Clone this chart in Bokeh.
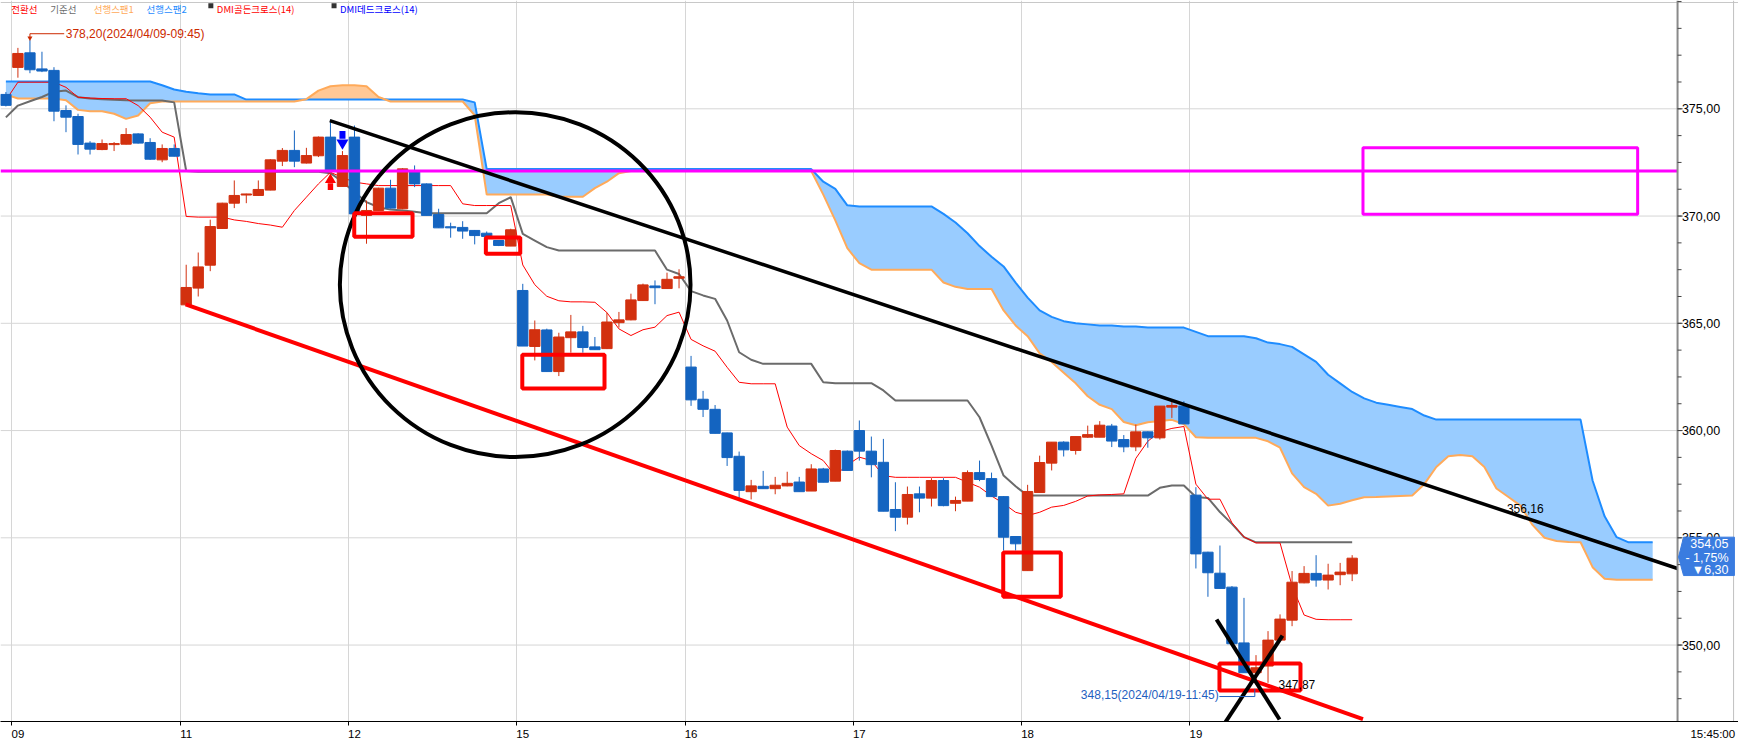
import numpy as np
from bokeh.plotting import figure
from bokeh.models import Range1d, FixedTicker
from bokeh.embed import file_html
from bokeh.resources import INLINE
from bokeh.core.properties import value

# ---------------- data (30-minute bars) ----------------
day_labels = ["09", "11", "12", "15", "16", "17", "18", "19"]
day_first_bar = [1, 15, 29, 43, 57, 71, 85, 99]
last_time_label = "15:45:00"

opens = [375.67, 376.93, 377.61, 376.86, 376.79, 374.92, 374.64, 373.40, 373.10, 373.33,
         373.35, 373.83, 373.43, 372.62, 373.15, 365.86, 366.64, 367.71, 369.42, 370.60,
         370.98, 370.96, 371.21, 372.56, 373.06, 372.47, 372.81, 373.68, 371.38, 373.68,
         370.03, 370.26, 371.30, 370.34, 372.05, 371.50, 370.07, 369.50, 369.47, 369.33,
         369.20, 368.86, 368.60, 366.53, 363.92, 364.69, 362.75, 364.33, 364.60, 363.90,
         363.82, 365.03, 365.16, 366.06, 366.74, 366.62, 367.10, 362.96, 361.46, 360.99,
         359.89, 358.80, 357.15, 357.40, 357.29, 357.42, 357.60, 357.18, 358.21, 357.64,
         359.04, 360.00, 359.04, 358.52, 356.32, 355.96, 357.05, 356.85, 357.67, 356.61,
         356.71, 358.04, 357.76, 356.92, 355.06, 353.47, 357.11, 358.48, 359.46, 359.07,
         359.69, 359.69, 360.21, 359.58, 359.24, 359.94, 359.66, 361.09, 361.14, 356.99,
         354.33, 353.35, 352.70, 350.10, 348.71, 349.02, 350.23, 351.16, 352.90, 353.34,
         353.03, 353.28, 353.32]
highs = [375.78, 377.84, 378.20, 377.66, 376.94, 375.16, 374.77, 373.49, 373.57, 373.45,
         374.10, 373.86, 373.63, 373.34, 373.34, 367.73, 368.30, 369.83, 370.62, 371.66,
         371.04, 371.66, 372.65, 373.17, 373.99, 373.18, 373.71, 374.49, 373.03, 374.22,
         370.72, 371.32, 371.69, 372.23, 372.36, 371.52, 370.34, 369.69, 369.76, 369.35,
         369.28, 368.88, 369.41, 366.84, 365.13, 364.75, 364.56, 365.39, 364.88, 364.36,
         365.50, 365.53, 366.38, 366.85, 367.00, 367.36, 367.52, 363.48, 361.85, 361.19,
         359.90, 359.02, 357.70, 358.12, 357.84, 358.08, 357.84, 358.43, 358.26, 359.11,
         359.07, 360.47, 359.72, 359.61, 357.59, 357.39, 357.39, 357.78, 357.78, 356.92,
         358.14, 358.60, 358.04, 356.94, 355.08, 357.47, 358.83, 359.46, 359.50, 359.72,
         360.23, 360.44, 360.31, 359.79, 360.28, 359.96, 361.14, 361.37, 361.37, 357.36,
         354.35, 354.64, 352.75, 352.20, 349.53, 350.65, 351.43, 353.45, 353.68, 354.19,
         353.79, 353.83, 354.19]
lows = [375.11, 376.45, 376.66, 376.71, 374.42, 373.91, 372.87, 372.87, 373.07, 373.03,
        373.34, 373.38, 372.62, 372.51, 372.78, 365.86, 366.25, 367.43, 369.40, 370.37,
        370.60, 370.94, 371.20, 372.33, 372.28, 372.45, 372.75, 372.12, 371.38, 370.10,
        368.71, 370.24, 370.35, 370.32, 371.35, 370.03, 369.45, 368.99, 368.94, 368.68,
        369.02, 368.60, 368.60, 363.94, 363.27, 362.75, 362.54, 363.63, 363.63, 363.77,
        363.80, 364.80, 365.14, 366.04, 365.89, 366.60, 366.63, 361.15, 360.63, 359.87,
        358.35, 356.79, 356.79, 357.29, 357.03, 357.40, 357.15, 357.18, 357.59, 357.64,
        358.14, 358.60, 357.82, 356.24, 355.31, 355.62, 356.19, 356.46, 356.47, 356.24,
        356.71, 357.64, 356.92, 354.41, 354.41, 353.47, 357.11, 358.14, 358.79, 358.88,
        359.66, 359.69, 359.23, 358.99, 359.04, 359.20, 359.58, 360.59, 360.31, 353.57,
        352.25, 352.64, 350.06, 348.71, 348.15, 348.24, 350.20, 350.88, 352.88, 352.72,
        352.59, 352.79, 352.98]
closes = [375.16, 377.58, 376.82, 376.76, 374.89, 374.61, 373.34, 373.12, 373.38, 373.38,
          373.80, 373.40, 372.65, 373.15, 372.79, 366.67, 367.63, 369.51, 370.60, 370.96,
          371.03, 371.24, 372.62, 373.06, 372.56, 372.82, 373.68, 372.12, 372.82, 370.10,
          370.26, 371.30, 370.37, 372.20, 371.50, 370.03, 369.45, 369.45, 369.30, 369.09,
          369.05, 368.63, 369.36, 363.94, 364.70, 362.75, 364.36, 364.60, 363.87, 363.77,
          365.06, 365.16, 366.09, 366.79, 366.66, 367.05, 367.17, 361.43, 360.99, 359.87,
          358.74, 357.21, 357.42, 357.29, 357.45, 357.54, 357.15, 358.21, 357.59, 359.07,
          358.14, 359.04, 358.41, 356.24, 355.96, 357.02, 356.85, 357.67, 356.50, 356.74,
          358.04, 357.72, 356.92, 355.03, 354.72, 357.16, 358.51, 359.46, 359.10, 359.72,
          359.81, 360.25, 359.51, 359.24, 359.94, 359.66, 361.14, 361.17, 360.31, 354.25,
          353.37, 352.64, 350.06, 348.71, 348.94, 350.23, 351.21, 352.93, 353.34, 353.03,
          353.26, 353.40, 354.05]

# Ichimoku: conversion line (red), base line (gray)
tenkan = [375.40, 376.24, 376.24, 376.24, 376.24, 376.00, 375.54, 375.50, 375.48, 375.47,
          375.47, 375.15, 374.61, 373.91, 373.68, 369.98, 369.95, 369.95, 369.95, 369.82,
          369.75, 369.65, 369.58, 369.48, 370.26, 370.88, 371.50, 372.04, 371.80, 371.58,
          371.50, 371.42, 371.42, 371.42, 371.42, 371.42, 371.42, 371.42, 370.57, 370.49,
          370.49, 370.49, 370.49, 367.72, 366.80, 366.26, 366.05, 366.00, 366.00, 365.98,
          365.50, 364.74, 364.43, 364.70, 364.82, 365.36, 365.52, 364.25, 363.95, 363.70,
          362.95, 362.25, 362.18, 362.18, 362.18, 360.16, 359.30, 358.92, 358.60, 357.90,
          358.40, 358.76, 358.60, 357.90, 357.82, 357.82, 357.82, 357.82, 357.82, 357.82,
          357.59, 357.36, 356.95, 356.60, 356.19, 356.04, 356.19, 356.43, 356.51, 356.70,
          356.95, 357.00, 357.02, 357.05, 358.70, 359.50, 359.95, 360.10, 360.19, 357.50,
          356.80, 356.80, 355.70, 355.04, 354.76, 354.76, 354.76, 352.76, 351.40, 351.20,
          351.18, 351.18, 351.18]
kijun = [374.60, 375.15, 375.35, 375.55, 375.80, 375.85, 375.54, 375.48, 375.45, 375.42,
         375.40, 375.39, 375.39, 375.39, 375.30, 372.10, 372.06, 372.06, 372.06, 372.06,
         372.06, 372.06, 372.06, 372.06, 372.06, 372.06, 372.06, 372.00, 371.60, 371.11,
         370.65, 370.41, 370.30, 370.26, 370.20, 370.13, 370.13, 370.13, 370.13, 370.13,
         370.13, 370.60, 370.88, 369.17, 368.86, 368.55, 368.39, 368.39, 368.39, 368.39,
         368.39, 368.39, 368.39, 368.39, 368.39, 367.50, 367.30, 366.50, 366.30, 366.14,
         365.13, 363.65, 363.30, 363.11, 363.11, 363.11, 363.11, 363.11, 362.25, 362.21,
         362.21, 362.21, 362.21, 361.87, 361.40, 361.40, 361.40, 361.40, 361.40, 361.40,
         361.40, 360.62, 359.30, 357.90, 357.40, 356.97, 356.97, 356.97, 356.97, 356.97,
         356.97, 356.97, 356.97, 356.97, 356.97, 356.97, 357.33, 357.44, 357.44, 356.90,
         356.86, 356.20, 355.65, 355.03, 354.79, 354.79, 354.79, 354.79, 354.79, 354.79,
         354.79, 354.79, 354.79]
# leading spans (already shifted forward), bar 0 .. 137
span_a = [375.66, 375.48, 375.48, 375.48, 375.48, 375.40, 374.95, 374.89, 374.89, 374.77,
          374.53, 374.69, 375.26, 375.34, 375.34, 375.34, 375.34, 375.34, 375.34, 375.34,
          375.34, 375.34, 375.34, 375.34, 375.34, 375.45, 375.85, 376.05, 376.10, 376.10,
          376.05, 375.55, 375.34, 375.34, 375.34, 375.34, 375.34, 375.34, 375.34, 374.70,
          371.00, 371.00, 371.00, 371.00, 371.00, 371.00, 370.90, 370.90, 370.90, 371.30,
          371.60, 372.00, 372.10, 372.10, 372.10, 372.10, 372.10, 372.10, 372.10, 372.10,
          372.10, 372.10, 372.10, 372.10, 372.10, 372.10, 372.10, 372.10, 371.00, 369.80,
          368.50, 367.80, 367.50, 367.50, 367.50, 367.50, 367.50, 367.50, 366.90, 366.70,
          366.60, 366.60, 366.60, 365.60, 364.90, 364.40, 363.60, 363.20, 362.70, 362.20,
          361.60, 361.20, 361.00, 360.40, 360.25, 360.39, 360.45, 360.50, 360.30, 359.69,
          359.66, 359.66, 359.66, 359.66, 359.66, 359.50, 359.20, 358.00, 357.36, 357.05,
          356.50, 356.59, 356.75, 356.89, 356.90, 356.93, 356.95, 356.97, 357.50, 358.30,
          358.80, 358.86, 358.80, 358.30, 357.30, 356.90, 356.50, 355.60, 355.00, 354.85,
          354.80, 354.79, 353.63, 353.09, 353.04, 353.04, 353.04, 353.04]
span_b = [376.27, 376.27, 376.27, 376.27, 376.27, 376.27, 376.27, 376.27, 376.27, 376.27,
          376.27, 376.27, 376.27, 376.10, 375.90, 375.80, 375.73, 375.67, 375.67, 375.67,
          375.43, 375.43, 375.43, 375.43, 375.43, 375.43, 375.43, 375.43, 375.43, 375.43,
          375.43, 375.43, 375.43, 375.43, 375.43, 375.43, 375.43, 375.43, 375.43, 375.30,
          372.19, 372.19, 372.19, 372.19, 372.19, 372.19, 372.19, 372.19, 372.19, 372.19,
          372.19, 372.19, 372.19, 372.19, 372.19, 372.19, 372.19, 372.19, 372.19, 372.19,
          372.19, 372.19, 372.19, 372.19, 372.19, 372.19, 372.19, 372.19, 371.60, 371.27,
          370.50, 370.45, 370.45, 370.45, 370.45, 370.45, 370.45, 370.45, 370.10, 369.70,
          369.20, 368.60, 368.10, 367.65, 366.90, 366.20, 365.60, 365.30, 365.10, 365.00,
          364.95, 364.90, 364.90, 364.85, 364.85, 364.80, 364.80, 364.80, 364.80, 364.60,
          364.40, 364.40, 364.40, 364.40, 364.30, 364.10, 364.03, 363.90, 363.55, 363.20,
          362.60, 362.20, 361.80, 361.50, 361.30, 361.20, 361.10, 361.00, 360.70, 360.51,
          360.51, 360.51, 360.51, 360.51, 360.51, 360.51, 360.51, 360.51, 360.51, 360.51,
          360.51, 360.51, 357.67, 356.00, 355.03, 354.79, 354.79, 354.79]

price_ticks = [350, 355, 360, 365, 370, 375]
price_tick_labels = ["350,00", "355,00", "360,00", "365,00", "370,00", "375,00"]

legend_names = ["전환선", "기준선", "선행스팬1", "선행스팬2", "DMI골든크로스(14)", "DMI데드크로스(14)"]
high_note = "378,20(2024/04/09-09:45)"
low_note = "348,15(2024/04/19-11:45)"
trend_note = "356,16"
channel_note = "347,87"
tag_lines = ["354,05", "- 1,75%", "▼6,30"]
magenta_level = 372.1

# ---------------- styling ----------------
FONT = "Liberation Sans Narrow, Liberation Sans, sans-serif"
KFONT = "Noto Sans CJK KR"
UP = "#d2300f"
DOWN = "#1464c0"
C_TENKAN, C_KIJUN, C_SPANA, C_SPANB = "#ff0000", "#6b6b6b", "#ffaa5a", "#1e8cff"

assert len(opens) == len(highs) == len(lows) == len(closes) == len(tenkan) == len(kijun) == 113
assert len(span_a) == len(span_b) == 138

n = len(opens)
bars = list(range(n))
colors = [UP if c >= o else DOWN for o, c in zip(opens, closes)]
body_top = [max(o, c) for o, c in zip(opens, closes)]
body_bot = [min(o, c) for o, c in zip(opens, closes)]

X0, X1 = -0.449, 144.14          # bar-index range shown
Y0, Y1 = 346.436, 380.049
AXIS_X = 139.07                  # where the price scale sits

p = figure(frame_width=1738, frame_height=721,
           x_range=Range1d(X0, X1), y_range=Range1d(Y0, Y1),
           y_axis_location=None, toolbar_location=None, output_backend="svg",
           min_border_left=0, min_border_top=0, min_border_right=0, min_border_bottom=17)
p.background_fill_color = "white"
p.border_fill_color = "white"
p.outline_line_color = None

# bottom (time) axis: labels on the first bar of each day, tick marks at day boundaries
boundaries = [b - 0.5 for b in day_first_bar]
label_pos = day_first_bar + [142]
p.xaxis.ticker = FixedTicker(ticks=label_pos, minor_ticks=boundaries)
p.xaxis.major_label_overrides = dict(zip(label_pos, day_labels + [last_time_label]))
p.xaxis.axis_line_color = "black"
p.xaxis.major_tick_line_color = None
p.xaxis.major_tick_out = 0
p.xaxis.major_tick_in = 0
p.xaxis.minor_tick_line_color = "black"
p.xaxis.minor_tick_out = 4
p.xaxis.minor_tick_in = 0
p.xaxis.major_label_standoff = 2
p.xaxis.major_label_text_font = FONT
p.xaxis.major_label_text_font_size = "11.5px"
p.xaxis.major_label_text_color = "black"

p.xgrid.ticker = FixedTicker(ticks=boundaries)
p.xgrid.grid_line_color = "#d6d6d6"
p.ygrid.grid_line_color = None

# window borders
p.segment(x0=[X0], y0=[379.956], x1=[X1], y1=[379.956], line_color="#c8c8c8", line_width=1)
p.segment(x0=[143.73], y0=[Y0], x1=[143.73], y1=[Y1], line_color="#c0c0c0", line_width=1)

# horizontal grid up to the price axis
p.segment(x0=[X0] * len(price_ticks), y0=price_ticks, x1=[AXIS_X] * len(price_ticks),
          y1=price_ticks, line_color="#d6d6d6", line_width=1)

# cloud
cx = list(range(len(span_a)))
a_arr = np.array(span_a)
b_arr = np.array(span_b)
top_arr = np.maximum(a_arr, b_arr)
p.varea(x=cx, y1=a_arr, y2=top_arr, fill_color="#99ccff")
p.varea(x=cx, y1=b_arr, y2=top_arr, fill_color="#ffc896")
p.line(cx, span_b, line_color=C_SPANB, line_width=2)
p.line(cx, span_a, line_color=C_SPANA, line_width=2)

# base/conversion lines
p.line(bars, kijun, line_color=C_KIJUN, line_width=2)
p.line(bars, tenkan, line_color=C_TENKAN, line_width=1)

# candles
p.segment(x0=bars, y0=lows, x1=bars, y1=highs, line_color=colors, line_width=1)
p.vbar(x=bars, width=0.86, top=body_top, bottom=body_bot,
       fill_color=colors, line_color=colors, line_width=1)

# ---------------- hand-drawn annotations ----------------
p.segment(x0=[X0], y0=[magenta_level], x1=[AXIS_X], y1=[magenta_level],
          line_color="#ff00ff", line_width=3)
p.quad(left=[112.9], right=[135.75], top=[373.18], bottom=[370.08],
       fill_color=None, line_color="#ff00ff", line_width=3)

p.segment(x0=[14.95], y0=[365.88], x1=[112.9], y1=[346.55], line_color="#ff0000", line_width=4)
p.segment(x0=[26.95], y0=[374.45], x1=[AXIS_X], y1=[353.57], line_color="black", line_width=3.5)

p.ellipse(x=[42.37], y=[366.80], width=[29.17], height=[16.08],
          fill_color=None, line_color="black", line_width=4)

box_l = [28.98, 39.93, 42.96, 82.97, 100.96]
box_r = [33.83, 42.79, 49.80, 87.76, 107.70]
box_t = [370.13, 369.00, 363.53, 354.31, 349.14]
box_b = [369.03, 368.24, 361.96, 352.25, 347.88]
p.quad(left=box_l, right=box_r, top=box_t, bottom=box_b,
       fill_color=None, line_color="#ff0000", line_width=4)

p.segment(x0=[100.72, 106.20], y0=[351.19, 350.44], x1=[105.96, 101.05], y1=[346.53, 346.06],
          line_color="black", line_width=4)

# DMI signal arrows
up_bar, dn_bar = 27, 28
p.vbar(x=[up_bar], width=0.45, top=[lows[up_bar] - 0.59], bottom=[lows[up_bar] - 0.9],
       fill_color="#ff0000", line_color=None)
p.scatter(x=[up_bar], y=[lows[up_bar] - 0.43], marker="triangle", size=11,
          fill_color="#ff0000", line_color=None)
p.vbar(x=[dn_bar], width=0.5, top=[highs[dn_bar] + 0.93], bottom=[highs[dn_bar] + 0.57],
       fill_color="#0000ff", line_color=None)
p.scatter(x=[dn_bar], y=[highs[dn_bar] + 0.38], marker="inverted_triangle", size=12,
          fill_color="#0000ff", line_color=None)

# high / low notes
hi_bar = int(np.argmax(highs))
lo_bar = int(np.argmin(lows))
p.segment(x0=[hi_bar, hi_bar], y0=[378.50, 378.50], x1=[4.85, hi_bar], y1=[378.50, 378.32],
          line_color="#cc2a00", line_width=1)
p.scatter(x=[hi_bar], y=[378.30], marker="inverted_triangle", size=5,
          fill_color="#cc2a00", line_color=None)
p.text(x=[4.98], y=[378.51], text=[high_note], text_font=value(FONT),
       text_font_size=value("12px"), text_color="#cc2a00",
       text_align="left", text_baseline="middle")

p.segment(x0=[100.95, lo_bar - 0.1], y0=[347.60, 347.60], x1=[lo_bar - 0.1, lo_bar - 0.1],
          y1=[347.60, 347.96], line_color="#1f5fbf", line_width=1)
p.text(x=[100.9], y=[347.67], text=[low_note], text_font=value(FONT),
       text_font_size=value("12px"), text_color="#1f5fbf",
       text_align="right", text_baseline="middle")

p.text(x=[107.4, 126.4], y=[348.15, 356.36], text=[channel_note, trend_note],
       text_font=value(FONT), text_font_size=value("12px"), text_color="black",
       text_align="center", text_baseline="middle")

# legend header along the top edge
p.scatter(x=[17.05, 27.3], y=[379.80, 379.80], marker="square", size=5,
          fill_color="#333333", line_color=None)
p.text(x=[0.45, 3.70, 7.30, 11.70, 17.55, 27.80], y=[380.0] * 6, text=legend_names,
       text_font=value(KFONT), text_font_size=value("9.5px"),
       text_color=[C_TENKAN, C_KIJUN, C_SPANA, C_SPANB, "#ff0000", "#0000ff"],
       text_align="left", text_baseline="top")

# ---------------- price axis (right) ----------------
minor = [346.25 + 1.25 * k for k in range(28)]
p.segment(x0=[AXIS_X], y0=[Y0], x1=[AXIS_X], y1=[Y1], line_color="#8a8a8a", line_width=2)
p.segment(x0=[AXIS_X] * len(minor), y0=minor, x1=[AXIS_X + 0.33] * len(minor), y1=minor,
          line_color="#444444", line_width=1)
p.segment(x0=[AXIS_X] * len(price_ticks), y0=price_ticks,
          x1=[AXIS_X + 0.42] * len(price_ticks), y1=price_ticks,
          line_color="#444444", line_width=1)
p.text(x=[AXIS_X + 0.36] * len(price_ticks), y=price_ticks, text=price_tick_labels,
       text_font=value(FONT), text_font_size=value("12.5px"), text_color="black",
       text_align="left", text_baseline="middle")

# last price tag
last = closes[-1]
tag_x = [AXIS_X + 0.08, AXIS_X + 0.5, 143.8, 143.8, AXIS_X + 0.5]
tag_y = [last + 0.05, last + 0.98, last + 0.98, last - 0.81, last - 0.81]
p.patch(tag_x, tag_y, fill_color="#3a7ce0", line_color="#3a7ce0")
p.text(x=[143.31] * 3, y=[last + 0.67, last + 0.02, last - 0.54], text=tag_lines,
       text_font=value(FONT), text_font_size=value("12.5px"), text_color="white",
       text_align="right", text_baseline="middle")

open("out.html", "w").write(file_html(p, INLINE))
